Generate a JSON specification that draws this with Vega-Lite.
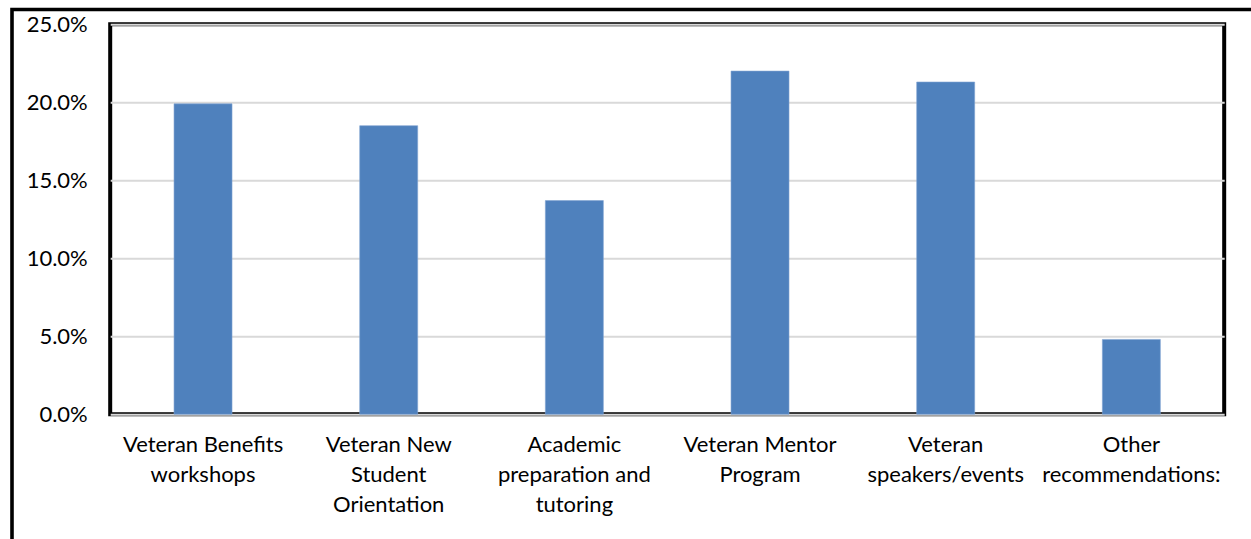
{
  "$schema": "https://vega.github.io/schema/vega-lite/v6.json",
  "width": 1114,
  "height": 390,
  "autosize": {"type": "none"},
  "padding": {"left": 110.2, "top": 24.3, "right": 27, "bottom": 125},
  "background": "white",
  "data": {
    "values": [
      {"item": "Veteran Benefits|workshops", "share": 0.199},
      {"item": "Veteran New|Student|Orientation", "share": 0.185},
      {"item": "Academic|preparation and|tutoring", "share": 0.137},
      {"item": "Veteran Mentor|Program", "share": 0.220},
      {"item": "Veteran|speakers/events", "share": 0.213},
      {"item": "Other|recommendations:", "share": 0.048}
    ]
  },
  "mark": {"type": "bar", "color": "#4F81BD", "stroke": "#7FA3D1", "strokeWidth": 0.6},
  "encoding": {
    "x": {
      "field": "item",
      "type": "nominal",
      "sort": null,
      "scale": {"paddingInner": 0.6877, "paddingOuter": 0.34385},
      "axis": {
        "title": null,
        "labelAngle": 0,
        "labelExpr": "split(datum.label, '|')",
        "labelFont": "Lato",
        "labelFontSize": 22,
        "labelLineHeight": 30,
        "labelColor": "#000000",
        "labelPadding": 20,
        "labelBaseline": "top",
        "labelLimit": 400,
        "ticks": false,
        "domain": false
      }
    },
    "y": {
      "field": "share",
      "type": "quantitative",
      "scale": {"domain": [0, 0.25], "nice": false},
      "axis": {
        "title": null,
        "values": [0, 0.05, 0.1, 0.15, 0.2, 0.25],
        "format": ".1%",
        "labelFont": "Lato",
        "labelFontSize": 22,
        "labelColor": "#000000",
        "labelPadding": 23,
        "ticks": false,
        "domain": false,
        "grid": true,
        "gridColor": "#D9D9D9",
        "gridWidth": 2
      }
    },
    "color": {
      "field": "share",
      "type": "quantitative",
      "scale": {"range": ["#4F81BD", "#4F81BD"]},
      "legend": {
        "orient": "none",
        "legendX": -98.2,
        "legendY": -14.8,
        "direction": "horizontal",
        "title": null,
        "gradientLength": 1400,
        "gradientThickness": 700,
        "gradientOpacity": 0,
        "gradientStrokeWidth": 0,
        "labelExpr": "''",
        "labelFontSize": 0,
        "labelOpacity": 0,
        "padding": 0
      }
    }
  },
  "config": {
    "view": {"stroke": "#000000", "strokeWidth": 4},
    "legend": {"strokeColor": "#000000", "strokeWidth": 3.6}
  }
}
